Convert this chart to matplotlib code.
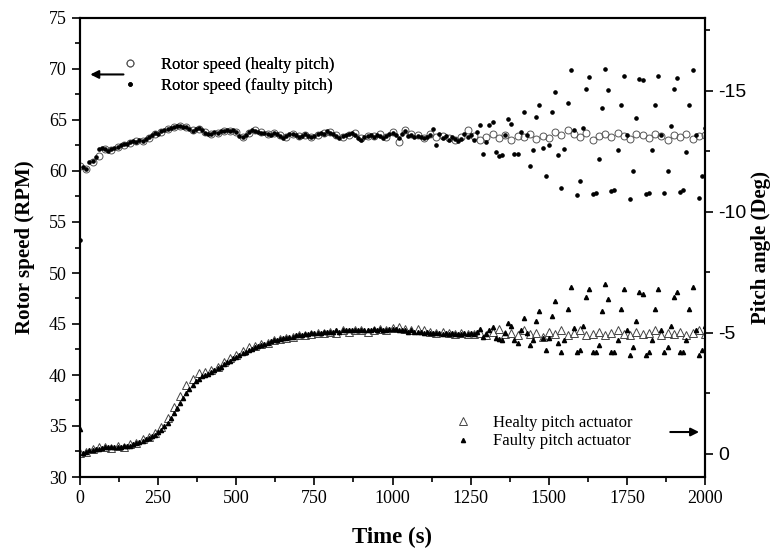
import numpy as np
import matplotlib
matplotlib.use('Agg')
import matplotlib.pyplot as plt
from matplotlib.ticker import MultipleLocator

plt.rcParams['font.family'] = ['Liberation Serif', 'DejaVu Serif']
plt.rcParams['axes.unicode_minus'] = False

# time bases (s)
t_healthy = np.arange(0, 2001, 20)
t_faulty = np.arange(0, 2001, 10)

# rotor speed, healthy pitch (RPM), every 20 s
rotor_healthy = [
    60.5, 60.2, 60.9, 61.5, 62.2, 62.1, 62.4, 62.5, 62.7, 62.9,
    62.9, 63.2, 63.6, 63.8, 64.1, 64.3, 64.4, 64.3, 64.0, 64.1,
    63.8, 63.6, 63.7, 63.9, 63.9, 63.8, 63.3, 63.7, 64.0, 63.8,
    63.6, 63.7, 63.5, 63.3, 63.6, 63.4, 63.5, 63.3, 63.5, 63.7,
    63.8, 63.5, 63.3, 63.5, 63.7, 63.2, 63.4, 63.4, 63.6, 63.3,
    63.8, 62.8, 64.0, 63.6, 63.5, 63.2, 63.6, 63.3, 63.4, 63.2,
    63.0, 63.3, 64.0, 63.4, 63.0, 63.3, 63.6, 63.2, 63.5, 63.0,
    63.4, 63.3, 63.6, 63.1, 63.4, 63.2, 63.8, 63.5, 64.0, 63.6,
    63.3, 63.7, 63.0, 63.4, 63.6, 63.3, 63.7, 63.4, 63.1, 63.6,
    63.5, 63.2, 63.6, 63.4, 63.0, 63.5, 63.3, 63.6, 63.1, 63.4,
    63.5]

# rotor speed, faulty pitch (RPM), every 10 s
rotor_faulty = [
    53.2, 60.4, 60.2, 60.9, 61.0, 61.4, 62.2, 62.3, 62.2, 62.0,
    62.2, 62.3, 62.4, 62.5, 62.6, 62.6, 62.8, 62.9, 62.8, 63.0,
    62.9, 63.1, 63.3, 63.5, 63.7, 63.6, 63.9, 64.0, 64.1, 64.2,
    64.3, 64.4, 64.4, 64.3, 64.3, 64.1, 63.9, 64.1, 64.2, 64.0,
    63.7, 63.6, 63.6, 63.8, 63.7, 63.9, 63.9, 64.0, 63.9, 64.0,
    63.8, 63.4, 63.3, 63.5, 63.8, 64.0, 63.9, 63.8, 63.7, 63.7,
    63.6, 63.5, 63.7, 63.6, 63.4, 63.2, 63.4, 63.6, 63.6, 63.5,
    63.3, 63.4, 63.6, 63.4, 63.3, 63.4, 63.6, 63.7, 63.6, 63.9,
    63.7, 63.6, 63.4, 63.2, 63.4, 63.5, 63.6, 63.7, 63.5, 63.2,
    63.0, 63.3, 63.4, 63.5, 63.3, 63.5, 63.4, 63.2, 63.4, 63.6,
    63.7, 63.5, 63.2, 63.6, 63.9, 63.4, 63.5, 63.3, 63.4, 63.3,
    63.2, 63.3, 63.5, 64.1, 62.5, 63.6, 63.2, 63.4, 63.0, 63.3,
    63.1, 62.9, 63.1, 63.6, 63.3,
    63.5, 63.0, 63.8, 64.5, 61.7, 62.8, 64.5, 64.8, 61.9, 61.5,
    61.6, 63.5, 65.1, 64.6, 61.7, 61.7, 63.8, 65.8, 63.5, 60.5,
    62.1, 65.3, 66.5, 62.3, 59.5, 62.5, 65.8, 67.7, 61.6, 58.3,
    62.2, 66.7, 69.9, 64.0, 57.6, 59.0, 64.2, 68.0, 69.2, 57.7,
    57.8, 61.2, 66.2, 70.0, 67.9, 58.0, 58.1, 62.1, 66.5, 69.3,
    63.5, 57.3, 60.0, 65.2, 69.0, 68.9, 57.7, 57.8, 62.1, 66.5,
    69.3, 63.5, 57.8, 60.0, 64.4, 68.0, 69.1, 57.9, 58.1, 61.9,
    66.5, 69.9, 63.5, 57.4, 59.5, 64.2]

# pitch angle, healthy actuator (deg), every 20 s
pitch_healthy = [
    -0.05, -0.1, -0.2, -0.3, -0.3, -0.25, -0.35, -0.3, -0.4, -0.45,
    -0.6, -0.7, -0.85, -1.1, -1.5, -1.95, -2.4, -2.85, -3.1, -3.35,
    -3.4, -3.45, -3.6, -3.8, -3.95, -4.1, -4.25, -4.4, -4.45, -4.55,
    -4.6, -4.7, -4.75, -4.8, -4.85, -4.9, -4.9, -4.95, -5.0, -5.0,
    -5.05, -5.0, -5.1, -5.05, -5.1, -5.1, -5.05, -5.1, -5.15, -5.1,
    -5.2, -5.25, -5.15, -5.1, -5.15, -5.1, -5.05, -5.0, -5.05, -5.0,
    -4.95, -5.0, -4.95, -4.95, -5.0, -4.9, -5.05, -5.15, -4.95, -5.0,
    -4.9, -5.1, -4.95, -5.0, -4.85, -5.05, -4.95, -5.1, -4.9, -5.0,
    -5.1, -4.9, -4.95, -5.05, -4.9, -5.0, -5.1, -4.95, -4.9, -5.05,
    -4.95, -5.0, -5.1, -4.9, -5.0, -4.95, -5.05, -4.9, -5.0, -5.1,
    -4.95]

# pitch angle, faulty actuator (deg), every 10 s
pitch_faulty = [
    -1.05, -0.05, -0.1, -0.15, -0.15, -0.2, -0.2, -0.25, -0.3, -0.3,
    -0.3, -0.3, -0.3, -0.3, -0.35, -0.35, -0.35, -0.4, -0.45, -0.5,
    -0.55, -0.6, -0.65, -0.75, -0.8, -0.9, -1.0, -1.15, -1.3, -1.5,
    -1.7, -1.9, -2.1, -2.3, -2.5, -2.7, -2.85, -3.0, -3.1, -3.2,
    -3.25, -3.3, -3.4, -3.45, -3.55, -3.6, -3.7, -3.8, -3.85, -3.95,
    -4.0, -4.1, -4.15, -4.2, -4.3, -4.35, -4.4, -4.45, -4.5, -4.55,
    -4.6, -4.65, -4.7, -4.7, -4.75, -4.8, -4.8, -4.85, -4.85, -4.9,
    -4.9, -4.9, -4.95, -4.95, -5.0, -5.0, -5.0, -5.0, -5.05, -5.05,
    -5.05, -5.05, -5.1, -5.05, -5.1, -5.1, -5.1, -5.1, -5.1, -5.1,
    -5.1, -5.1, -5.1, -5.1, -5.15, -5.1, -5.15, -5.1, -5.1, -5.15,
    -5.15, -5.15, -5.1, -5.1, -5.1, -5.05, -5.1, -5.05, -5.05, -5.05,
    -5.0, -5.05, -5.0, -5.0, -5.0, -5.0, -4.95, -5.0, -4.95, -5.0,
    -4.95, -4.95, -4.95, -5.0, -4.95,
    -5.0, -4.95, -5.05, -5.15, -4.85, -4.95, -5.1, -5.25, -4.8, -4.75,
    -4.7, -5.0, -5.4, -5.3, -4.7, -4.6, -5.1, -5.6, -5.0, -4.5,
    -4.7, -5.5, -5.9, -4.8, -4.3, -4.8, -5.7, -6.3, -4.6, -4.2,
    -4.7, -6.0, -6.9, -5.2, -4.2, -4.3, -5.3, -6.5, -6.8, -4.2,
    -4.2, -4.5, -5.9, -7.0, -6.4, -4.2, -4.2, -4.7, -6.0, -6.8,
    -5.1, -4.1, -4.4, -5.5, -6.7, -6.6, -4.1, -4.2, -4.7, -6.0,
    -6.8, -5.1, -4.2, -4.4, -5.3, -6.5, -6.7, -4.2, -4.2, -4.7,
    -6.0, -6.9, -5.1, -4.1, -4.3, -5.3]

fig = plt.figure(figsize=(7.76, 5.52), dpi=100)
ax = fig.add_axes([80 / 776, 75 / 552, 625 / 776, 459 / 552])
ax2 = ax.twinx()

l1, = ax.plot(t_healthy, rotor_healthy, linestyle='none', marker='o', ms=5.0,
              mfc='none', mec='#555555', mew=0.7, label='Rotor speed (healty pitch)')
l2, = ax.plot(t_faulty, rotor_faulty, linestyle='none', marker='o', ms=2.3,
              color='black', label='Rotor speed (faulty pitch)')
l3, = ax2.plot(t_healthy, pitch_healthy, linestyle='none', marker='^', ms=5.6,
               mfc='none', mec='#444444', mew=0.7, label='Healty pitch actuator')
l4, = ax2.plot(t_faulty, pitch_faulty, linestyle='none', marker='^', ms=3.0,
               color='black', label='Faulty pitch actuator')

ax.set_xlim(0, 2000)
ax.set_ylim(30, 75)
ax2.set_ylim(0.95, -18.0)

ax.xaxis.set_major_locator(MultipleLocator(250))
ax.xaxis.set_minor_locator(MultipleLocator(125))
ax.yaxis.set_major_locator(MultipleLocator(5))
ax.yaxis.set_minor_locator(MultipleLocator(2.5))
ax2.yaxis.set_major_locator(MultipleLocator(5))
ax2.yaxis.set_minor_locator(MultipleLocator(2.5))

ax.tick_params(which='both', direction='out', width=1.2, labelsize=13, top=False)
ax.tick_params(which='major', length=6)
ax.tick_params(which='minor', length=3.5)
ax2.tick_params(which='both', direction='out', width=1.2, labelsize=14)
ax2.tick_params(which='major', length=6)
ax2.tick_params(which='minor', length=3.5)
for lab in ax2.get_yticklabels():
    lab.set_family(['Liberation Sans', 'DejaVu Sans'])

for sp in ax.spines.values():
    sp.set_linewidth(1.5)
for sp in ax2.spines.values():
    sp.set_linewidth(1.5)

ax.set_xlabel('Time (s)', fontsize=16.5, fontweight='bold', labelpad=14)
ax.set_ylabel('Rotor speed (RPM)', fontsize=15, fontweight='bold', labelpad=10)
ax2.set_ylabel('Pitch angle (Deg)', fontsize=15, fontweight='bold')
ax2.yaxis.set_label_coords(1.074, 0.5)

leg1 = ax.legend(handles=[l1, l2], loc='upper left', bbox_to_anchor=(0.066, 0.915),
                 frameon=False, fontsize=12, handlelength=1.0, handletextpad=1.4,
                 labelspacing=0.3, borderpad=0, borderaxespad=0)
ax.add_artist(leg1)
ax2.legend(handles=[l3, l4], loc='lower left', bbox_to_anchor=(0.6, 0.06),
           frameon=False, fontsize=12, handlelength=1.0, handletextpad=1.3,
           labelspacing=0.15, borderpad=0, borderaxespad=0)

ax.annotate('', xy=(0.012, 0.877), xytext=(0.074, 0.877), xycoords='axes fraction',
            arrowprops=dict(arrowstyle='-|>', color='black', lw=1.5, mutation_scale=12))
ax.annotate('', xy=(0.995, 0.098), xytext=(0.94, 0.098), xycoords='axes fraction',
            arrowprops=dict(arrowstyle='-|>', color='black', lw=1.5, mutation_scale=12))

plt.savefig('out.png', dpi=100)
